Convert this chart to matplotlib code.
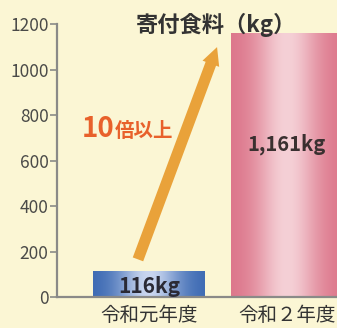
#!/usr/bin/python3

import matplotlib.pyplot as plt
import numpy as np

plt.rcParams['font.family'] = ['Noto Sans CJK JP', 'DejaVu Sans']

# data
years = ['令和元年度', '令和２年度']
food_kg = [116, 1161]
bar_labels = ['116kg', '1,161kg']
yticks = [0, 200, 400, 600, 800, 1000, 1200]

bg = '#fbf6d4'
axis_grey = '#8a8a88'


def gradient_bar(ax, rect, dark, light):
    # horizontal gradient: dark edges, light middle
    x0, y0 = rect.get_x(), rect.get_y()
    w, h = rect.get_width(), rect.get_height()
    t = np.linspace(0, 1, 200)
    s = np.exp(-((t - 0.5) / 0.28) ** 2)
    dark = np.array(plt.matplotlib.colors.to_rgb(dark))
    light = np.array(plt.matplotlib.colors.to_rgb(light))
    img = dark[None, :] * (1 - s[:, None]) + light[None, :] * s[:, None]
    im = ax.imshow(img[None, :, :], extent=(x0, x0 + w, y0, y0 + h),
                   aspect='auto', zorder=2, interpolation='bilinear')
    im.set_clip_path(rect)


fig = plt.figure(figsize=(3.37, 3.28), dpi=100)
fig.patch.set_facecolor(bg)
ax = fig.add_axes([0.169, 0.0945, 0.831, 0.8323])
ax.set_facecolor(bg)

x = np.arange(len(years))
bars = ax.bar(x, food_kg, width=0.81, color=['#3e6db5', '#df7f92'], zorder=1)
gradient_bar(ax, bars[0], '#3a68b2', '#c9d6f0')
gradient_bar(ax, bars[1], '#dc7489', '#f5d0d6')

ax.set_xlim(-0.667, 1.362)
ax.set_ylim(0, 1200)
ax.set_yticks(yticks)
ax.set_yticklabels([str(v) for v in yticks], fontsize=12.5, color='#4a4a48')
ax.set_xticks(x)
ax.set_xticklabels(years, fontsize=14, color='#333333')
ax.tick_params(axis='y', direction='out', length=5, width=1.2, color=axis_grey, pad=1)
ax.tick_params(axis='x', length=0, pad=6)

for sp in ['top', 'right']:
    ax.spines[sp].set_visible(False)
for sp in ['left', 'bottom']:
    ax.spines[sp].set_color(axis_grey)
    ax.spines[sp].set_linewidth(1.6)

# value labels
ax.text(x[0], food_kg[0] / 2 - 12, bar_labels[0], ha='center', va='center',
        fontsize=15, fontweight='bold', color='#2a2a35', zorder=3)
ax.text(x[1], 672, bar_labels[1], ha='center', va='center',
        fontsize=14.5, fontweight='bold', color='#3a3030', zorder=3)

# arrow
ax.annotate('', xy=(0.5, 1110), xytext=(-0.087, 154),
            arrowprops=dict(arrowstyle='simple,head_length=0.8,head_width=0.8,tail_width=0.5',
                            color='#e9a23a', lw=0, mutation_scale=16), zorder=3)
ax.text(-0.25, 705, '10', ha='right', va='baseline', fontsize=20,
        fontweight='bold', color='#e8612b')
ax.text(-0.25, 705, '倍以上', ha='left', va='baseline', fontsize=14,
        fontweight='bold', color='#e8612b')

fig.text(0.64, 0.925, '寄付食料（kg）', ha='center', va='center',
         fontsize=16, fontweight='bold', color='#333333')

fig.savefig('out.png', dpi=100, facecolor=bg)
